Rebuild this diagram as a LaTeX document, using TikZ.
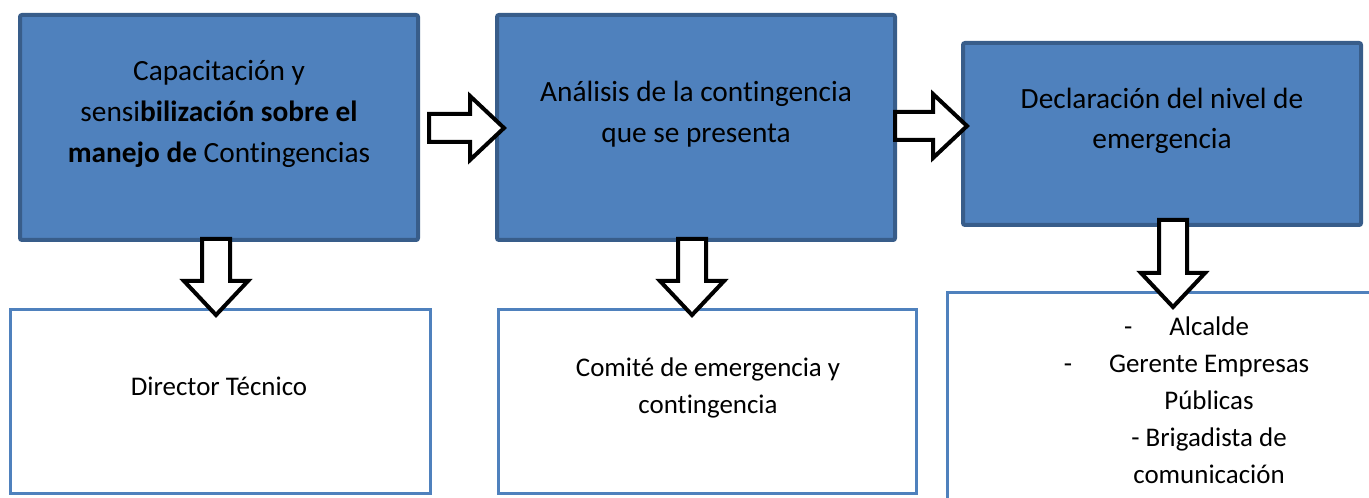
\documentclass[tikz,border=0pt]{standalone}
\usepackage{fontspec}
\setmainfont[Ligatures=NoCommon]{Carlito}
\usetikzlibrary{calc}
\definecolor{boxblue}{HTML}{4F81BD}
\definecolor{boxedge}{HTML}{385D8A}
\newlength\px
\setlength\px{0.75pt}

\tikzset{
  bluebox/.style={draw=boxedge,line width=4\px,fill=boxblue,rounded corners=2\px,inner sep=0pt},
  whitebox/.style={draw=boxblue,line width=3\px,fill=white,inner sep=0pt},
  bigtext/.style={align=center,font=\fontsize{22}{30.5}\selectfont},
  smalltext/.style={align=center,font=\fontsize{20.2}{27.75}\selectfont},
  pics/blockarrow/.style={code={
    \draw[line width=4\px,fill=white,line join=miter]
      (0,-14) -- ({#1-34},-14) -- ({#1-34},-32) -- (#1,0) -- ({#1-34},32) -- ({#1-34},14) -- (0,14) -- cycle;
  }}
}

\begin{document}
\begin{tikzpicture}[x=1\px,y=-1\px]
    \clip (0,0) rectangle (1369,498);

    \node[bluebox,minimum width=398\px,minimum height=225\px] (capac) at (219,127.5) {};
    \node[bluebox,minimum width=398\px,minimum height=225\px] (analisis) at (696,127.5) {};
    \node[bluebox,minimum width=398\px,minimum height=182\px] (declar) at (1162,134) {};

    \node[whitebox,minimum width=420\px,minimum height=183\px] (director) at (220,401.5) {};
    \node[whitebox,minimum width=418\px,minimum height=183\px] (comite) at (707,401.5) {};
    \node[whitebox,minimum width=438\px,minimum height=217\px] (autoridades) at (1166,401.5) {};

    \node[bigtext] (capactext) at (219,114) {Capacitación y\\sensi\textbf{bilización sobre el}\\\textbf{manejo de} Contingencias};
    \node[bigtext] (analisistext) at (696,114) {Análisis de la contingencia\\que se presenta};
    \node[bigtext] (declartext) at (1162,121) {Declaración del nivel de\\emergencia};

    \node[smalltext] (directortext) at (219,386) {Director Técnico};
    \node[smalltext] (comitetext) at (708,388) {Comité de emergencia y\\contingencia};
    \node[smalltext] (autoridadestext) at (1209,400) {-\hspace{37\px}Alcalde\hspace*{45\px}\null\\-\hspace{37\px}Gerente Empresas\hspace*{45\px}\null\\Públicas\\- Brigadista de\\comunicación};

    \pic at ($(capac.east)+(9,0.5)$) {blockarrow=75};
    \pic at ($(analisis.east)+(-2,-1.5)$) {blockarrow=72};
    \pic[rotate=-90] at ($(capac.south)+(-3,-3)$) {blockarrow=76};
    \pic[rotate=-90] at ($(analisis.south)+(-4,-3)$) {blockarrow=76};
    \pic[rotate=-90] at ($(declar.south)+(11,-7)$) {blockarrow=87};

  \end{tikzpicture}
\end{document}
